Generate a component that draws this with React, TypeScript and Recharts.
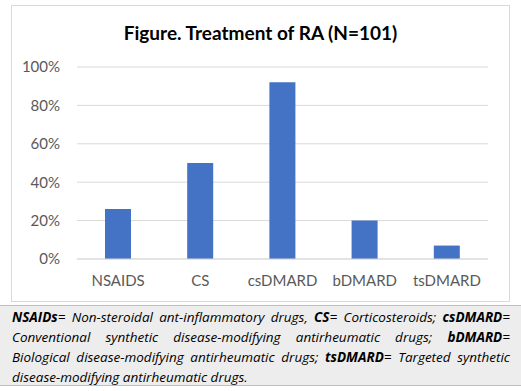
import React from 'react';
import { BarChart, Bar, XAxis, YAxis, CartesianGrid } from 'recharts';

const categories = ['NSAIDS', 'CS', 'csDMARD', 'bDMARD', 'tsDMARD'];
const shares = [26, 50, 92, 20, 7];
const yTicks = [0, 20, 40, 60, 80, 100];

const data = categories.map((name, i) => ({ name, value: shares[i] }));

const chartFont = 'Lato, "Open Sans", sans-serif';

// footnote lines, split the same way as the original
const noteLines: [string, string][][] = [
  [['NSAIDs', '= Non-steroidal ant-inflammatory drugs, '], ['CS', '= Corticosteroids; '], ['csDMARD', '=']],
  [['', 'Conventional synthetic disease-modifying antirheumatic drugs; '], ['bDMARD', '=']],
  [['', 'Biological disease-modifying antirheumatic drugs; '], ['tsDMARD', '= Targeted synthetic']],
  [['', 'disease-modifying antirheumatic drugs.']],
];

export default function App() {
  return (
    <div style={{ position: 'absolute', left: 0, top: 0, width: 521, height: 391, background: '#fff', fontFamily: chartFont }}>
      <div style={{ position: 'absolute', left: 11, top: 5, width: 497, height: 295, border: '1px solid #d9d9d9', background: '#fff' }}>
        <div style={{ position: 'absolute', left: 0, top: 15, width: 497, textAlign: 'center', fontSize: 19, lineHeight: '24px', fontWeight: 700, color: '#000' }}>
          Figure. Treatment of RA (N=101)
        </div>
        <BarChart width={497} height={295} data={data} margin={{ top: 61, right: 21, bottom: 0, left: 0 }}>
          <CartesianGrid vertical={false} stroke="#d9d9d9" />
          <XAxis
            dataKey="name"
            height={42}
            tickLine={false}
            axisLine={{ stroke: '#d9d9d9' }}
            tickMargin={10}
            tick={{ fill: '#595959', fontSize: 15, fontFamily: chartFont }}
          />
          <YAxis
            width={65}
            domain={[0, 100]}
            ticks={yTicks}
            tickFormatter={(v) => `${v}%`}
            tickLine={false}
            axisLine={false}
            tickMargin={11}
            tick={{ fill: '#595959', fontSize: 15, fontFamily: chartFont }}
          />
          <Bar dataKey="value" fill="#4472c4" barSize={26} isAnimationActive={false} />
        </BarChart>
      </div>
      <div
        style={{
          position: 'absolute',
          left: 0,
          top: 305,
          width: 521,
          height: 81,
          background: '#ededed',
          borderTop: '1px solid #bfbfbf',
          borderBottom: '1px solid #bfbfbf',
          boxSizing: 'border-box',
          padding: '1px 11px 0 12px',
          fontFamily: '"Open Sans", sans-serif',
          fontStyle: 'italic',
          fontSize: 13.5,
          lineHeight: '20px',
          color: '#000',
        }}
      >
        {noteLines.map((line, i) => (
          <div
            key={i}
            style={{
              whiteSpace: 'nowrap',
              textAlign: 'justify',
              textAlignLast: i < noteLines.length - 1 ? 'justify' : 'left',
            }}
          >
            {line.map(([bold, rest], j) => (
              <React.Fragment key={j}>
                {bold && <b>{bold}</b>}
                {rest}
              </React.Fragment>
            ))}
          </div>
        ))}
      </div>
    </div>
  );
}
